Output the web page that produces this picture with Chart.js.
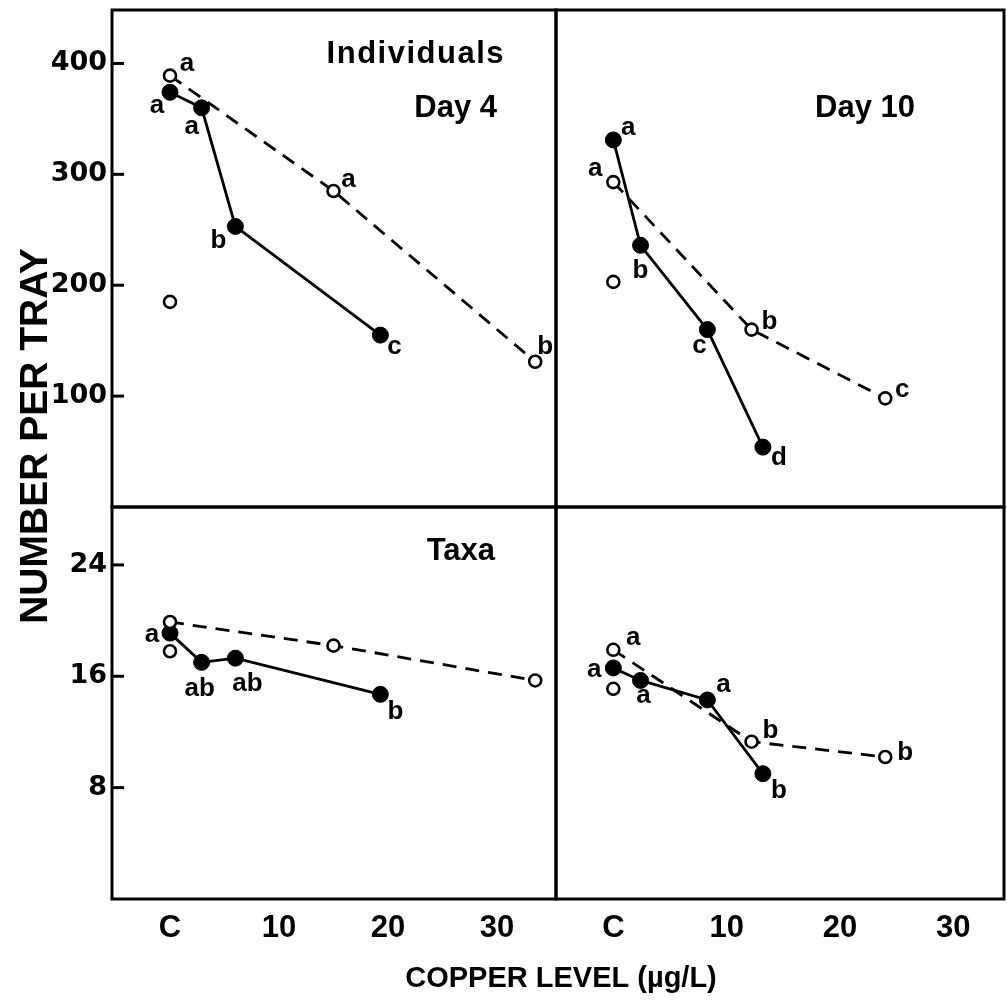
<!DOCTYPE html>
<html>
<head>
<meta charset="utf-8">
<script src="https://cdn.jsdelivr.net/npm/chart.js@4.4.0/dist/chart.umd.min.js"></script>
<style>
  body { margin: 0; background: #fff; }
  #wrap { position: relative; width: 1007px; height: 1003px; }
  canvas { position: absolute; left: 0; top: 0; }
</style>
</head>
<body>
<div id="wrap">
  <canvas id="indDay4" width="1007" height="1003"></canvas>
  <canvas id="indDay10" width="1007" height="1003"></canvas>
  <canvas id="taxaDay4" width="1007" height="1003"></canvas>
  <canvas id="taxaDay10" width="1007" height="1003"></canvas>
</div>
<script>
// copper level (ug/L), control "C" plotted at 0
const day4FilledX = [0, 2.9, 6.0, 19.3];
const day4OpenX = [0, 15.0, 33.5];
const day10FilledX = [0, 2.4, 8.3, 13.2];
const day10OpenX = [0, 12.2, 24.0];
const extraX = [0];

// individuals per tray
const indDay4Filled = [374, 360, 253, 155];
const indDay4Open = [389, 285, 131];
const indDay4Extra = [185];
const indDay10Filled = [331, 236, 160, 54];
const indDay10Open = [293, 160, 98];
const indDay10Extra = [203];

// taxa per tray
const taxaDay4Filled = [19.1, 17.0, 17.3, 14.7];
const taxaDay4Open = [19.9, 18.2, 15.7];
const taxaDay4Extra = [17.8];
const taxaDay10Filled = [16.6, 15.7, 14.3, 9.0];
const taxaDay10Open = [17.9, 11.3, 10.2];
const taxaDay10Extra = [15.1];

// significance letters
const indDay4FilledLetters = ['a', 'a', 'b', 'c'];
const indDay4OpenLetters = ['a', 'a', 'b'];
const indDay10FilledLetters = ['a', 'b', 'c', 'd'];
const indDay10OpenLetters = ['a', 'b', 'c'];
const taxaDay4FilledLetters = ['a', 'ab', 'ab', 'b'];
const taxaDay4OpenLetters = ['', '', ''];
const taxaDay10FilledLetters = ['a', 'a', 'a', 'b'];
const taxaDay10OpenLetters = ['a', 'b', 'b'];

// tick labels
const xTickValues = [0, 10, 20, 30];
const xTickLabels = ['C', '10', '20', '30'];
const indTicks = [100, 200, 300, 400];
const taxaTicks = [8, 16, 24];

const SANS = '"Liberation Sans", Arial, sans-serif';

function pts(xs, ys) {
    return ys.map((y, i) => ({ x: xs[i], y: y }));
}

function datasets(openX, open, filledX, filled, extra) {
    return [{
        data: pts(openX, open),
        showLine: true,
        borderColor: '#000',
        borderWidth: 2.8,
        borderDash: [14, 9],
        pointRadius: 6,
        pointBackgroundColor: '#fff',
        pointBorderColor: '#000',
        pointBorderWidth: 2.6,
    }, {
        data: pts(filledX, filled),
        showLine: true,
        borderColor: '#000',
        borderWidth: 2.8,
        pointRadius: 8,
        pointBackgroundColor: '#000',
        pointBorderColor: '#000',
        pointBorderWidth: 1,
    }, {
        data: pts(extraX, extra),
        showLine: false,
        pointRadius: 6,
        pointBackgroundColor: '#fff',
        pointBorderColor: '#000',
        pointBorderWidth: 2.6,
    }];
}

function xAxis(min, max, show) {
    const axis = {
        type: 'linear', min: min, max: max, display: show,
        grid: { display: false, drawTicks: false }, border: { display: false },
        afterBuildTicks: ax => { ax.ticks = xTickValues.map(v => ({ value: v })); },
        ticks: {
            autoSkip: false, maxRotation: 0, padding: 11, color: '#000',
            font: { family: SANS, size: 31, weight: 'bold' },
            callback: v => xTickLabels[xTickValues.indexOf(v)]
        }
    };
    if (show) {
        axis.afterFit = ax => { ax.height = 50; ax.paddingLeft = 0; ax.paddingRight = 0; };
    }
    return axis;
}

function yAxis(max, tickVals, show) {
    const axis = {
        type: 'linear', min: 0, max: max, display: show,
        grid: { display: false, drawTicks: false }, border: { display: false },
        afterBuildTicks: ax => { ax.ticks = tickVals.map(v => ({ value: v })); },
        ticks: {
            autoSkip: false, padding: 5, color: '#000',
            font: { family: '"DejaVu Sans", sans-serif', size: 27, weight: 'bold' }
        }
    };
    if (show) {
        axis.afterFit = ax => { ax.width = 112; ax.paddingTop = 0; ax.paddingBottom = 0; };
    }
    return axis;
}

// frame, inward ticks, letters and captions
function makeDecor(p) {
    return {
        id: 'decor',
        afterDatasetsDraw(chart) {
            const ctx = chart.ctx;
            const area = chart.chartArea;
            ctx.save();
            ctx.strokeStyle = '#000';
            ctx.lineWidth = 3;
            ctx.strokeRect(area.left, area.top, area.right - area.left, area.bottom - area.top);
            if (p.innerTicks) {
                const ys = chart.scales.y;
                ys.ticks.forEach(t => {
                    const py = ys.getPixelForValue(t.value);
                    ctx.beginPath();
                    ctx.moveTo(area.left, py);
                    ctx.lineTo(area.left + 12, py);
                    ctx.stroke();
                });
            }
            ctx.fillStyle = '#000';
            ctx.font = 'bold 26px ' + SANS;
            ctx.textAlign = 'center';
            ctx.textBaseline = 'alphabetic';
            p.letters.forEach((set, di) => {
                const meta = chart.getDatasetMeta(di);
                set.forEach((txt, i) => {
                    if (!txt) return;
                    const el = meta.data[i];
                    const off = p.offsets[di][i];
                    const tall = /[bdhkl]/.test(txt);
                    ctx.fillText(txt, el.x + off[0], el.y + off[1] + (tall ? 0.365 : 0.26) * 26);
                });
            });
            (p.captions || []).forEach(c => {
                ctx.save();
                ctx.font = c.font;
                ctx.textAlign = c.align || 'center';
                ctx.letterSpacing = c.spacing || '0px';
                ctx.translate(c.x, c.y);
                if (c.rotate) ctx.rotate(c.rotate);
                ctx.fillText(c.text, 0, 0);
                ctx.restore();
            });
            ctx.restore();
        }
    };
}

function makePanel(id, cfg) {
    return new Chart(document.getElementById(id), {
        type: 'scatter',
        data: { datasets: cfg.datasets },
        options: {
            responsive: false,
            animation: false,
            devicePixelRatio: 1,
            events: [],
            layout: { padding: cfg.padding, autoPadding: false },
            plugins: { legend: { display: false }, tooltip: { enabled: false } },
            scales: { x: cfg.x, y: cfg.y }
        },
        plugins: [makeDecor(cfg.decor)]
    });
}

const TITLE_FONT = 'bold 31px ' + SANS;

makePanel('indDay4', {
    datasets: datasets(day4OpenX, indDay4Open, day4FilledX, indDay4Filled, indDay4Extra),
    padding: { left: 0, top: 10, right: 451, bottom: 496 },
    x: xAxis(-5.32, 35.41, false),
    y: yAxis(448.2, indTicks, true),
    decor: {
        innerTicks: true,
        letters: [indDay4OpenLetters, indDay4FilledLetters],
        offsets: [[[17, -11], [15, -11], [10, -17]], [[-13, 14], [-10, 19], [-17, 12], [14, 12]]],
        captions: [
            { text: 'Individuals', x: 505, y: 63, font: TITLE_FONT, align: 'right', spacing: '1.5px' },
            { text: 'Day 4', x: 497, y: 117, font: TITLE_FONT, align: 'right' },
            { text: 'NUMBER PER TRAY', x: 47, y: 436, font: 'bold 39px ' + SANS, rotate: -Math.PI / 2 },
            { text: 'COPPER LEVEL (\u00b5g/L)', x: 561, y: 987, font: 'bold 29px ' + SANS }
        ]
    }
});

makePanel('indDay10', {
    datasets: datasets(day10OpenX, indDay10Open, day10FilledX, indDay10Filled, indDay10Extra),
    padding: { left: 556, top: 10, right: 3, bottom: 496 },
    x: xAxis(-5.06, 34.48, false),
    y: yAxis(448.2, indTicks, false),
    decor: {
        letters: [indDay10OpenLetters, indDay10FilledLetters],
        offsets: [[[-18, -13], [18, -10], [17, -8]], [[15, -12], [0, 23], [-8, 17], [16, 8]]],
        captions: [
            { text: 'Day 10', x: 915, y: 117, font: TITLE_FONT, align: 'right' }
        ]
    }
});

makePanel('taxaDay4', {
    datasets: datasets(day4OpenX, taxaDay4Open, day4FilledX, taxaDay4Filled, taxaDay4Extra),
    padding: { left: 0, top: 507, right: 451, bottom: 54 },
    x: xAxis(-5.32, 35.41, true),
    y: yAxis(28.16, taxaTicks, true),
    decor: {
        innerTicks: true,
        letters: [taxaDay4OpenLetters, taxaDay4FilledLetters],
        offsets: [[[0, 0], [0, 0], [0, 0]], [[-18, 2], [-2, 24], [12, 23], [15, 15]]],
        captions: [
            { text: 'Taxa', x: 495, y: 560, font: TITLE_FONT, align: 'right' }
        ]
    }
});

makePanel('taxaDay10', {
    datasets: datasets(day10OpenX, taxaDay10Open, day10FilledX, taxaDay10Filled, taxaDay10Extra),
    padding: { left: 556, top: 507, right: 3, bottom: 54 },
    x: xAxis(-5.06, 34.48, true),
    y: yAxis(28.16, taxaTicks, false),
    decor: {
        letters: [taxaDay10OpenLetters, taxaDay10FilledLetters],
        offsets: [[[20, -12], [19, -13], [20, -7]], [[-19, 2], [3, 16], [16, -15], [16, 15]]]
    }
});
</script>
</body>
</html>
